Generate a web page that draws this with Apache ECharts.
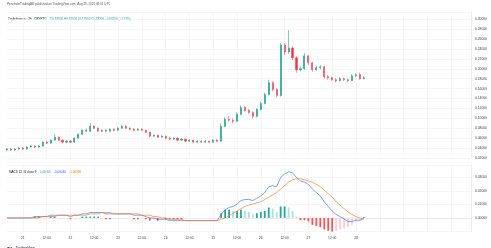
<!DOCTYPE html>
<html><head><meta charset="utf-8">
<script src="https://cdn.jsdelivr.net/npm/echarts@6/dist/echarts.min.js"></script>
<style>html,body{margin:0;padding:0;background:#fff}#c{width:491px;height:248px}</style>
</head><body><div id="c"></div><script>
// ---- data (2h candles) ----
const openP=[0.036,0.038,0.036,0.038,0.040,0.038,0.042,0.044,0.042,0.044,
0.052,0.050,0.056,0.062,0.056,0.052,0.054,0.052,0.060,0.068,
0.076,0.074,0.084,0.080,0.074,0.076,0.074,0.078,0.076,0.080,
0.084,0.080,0.078,0.076,0.078,0.076,0.072,0.064,0.066,0.062,
0.064,0.060,0.058,0.060,0.056,0.058,0.054,0.056,0.052,0.054,
0.052,0.054,0.052,0.056,0.054,0.084,0.098,0.096,0.094,0.108,
0.122,0.116,0.112,0.104,0.118,0.130,0.148,0.172,0.158,0.146,
0.248,0.234,0.242,0.222,0.198,0.200,0.226,0.212,0.198,0.202,
0.204,0.184,0.182,0.178,0.176,0.180,0.178,0.176,0.186,0.188,
0.180];
const closeP=[0.038,0.036,0.038,0.040,0.038,0.042,0.044,0.042,0.044,0.052,
0.050,0.056,0.062,0.056,0.052,0.054,0.052,0.060,0.068,0.076,
0.074,0.084,0.080,0.074,0.076,0.074,0.078,0.076,0.080,0.084,
0.080,0.078,0.076,0.078,0.076,0.072,0.064,0.066,0.062,0.064,
0.060,0.058,0.060,0.056,0.058,0.054,0.056,0.052,0.054,0.052,
0.054,0.052,0.056,0.054,0.084,0.098,0.096,0.094,0.108,0.122,
0.116,0.112,0.104,0.118,0.130,0.148,0.172,0.158,0.146,0.248,
0.234,0.242,0.222,0.198,0.200,0.226,0.212,0.198,0.202,0.204,
0.184,0.182,0.178,0.176,0.180,0.178,0.176,0.186,0.188,0.180,
0.182];
const highP=[0.040,0.040,0.040,0.042,0.042,0.044,0.046,0.046,0.046,0.054,
0.055,0.058,0.068,0.064,0.058,0.056,0.056,0.062,0.070,0.078,
0.079,0.090,0.086,0.082,0.078,0.078,0.080,0.080,0.082,0.087,
0.086,0.082,0.080,0.080,0.080,0.077,0.073,0.068,0.067,0.066,
0.065,0.062,0.062,0.061,0.060,0.059,0.058,0.057,0.056,0.055,
0.056,0.055,0.058,0.058,0.090,0.102,0.104,0.100,0.112,0.126,
0.125,0.119,0.114,0.121,0.134,0.152,0.178,0.175,0.161,0.252,
0.252,0.278,0.246,0.225,0.205,0.232,0.228,0.214,0.206,0.208,
0.206,0.187,0.184,0.181,0.183,0.182,0.180,0.189,0.191,0.192,
0.185];
const lowP=[0.034,0.034,0.035,0.037,0.036,0.037,0.041,0.040,0.041,0.043,
0.048,0.049,0.055,0.054,0.050,0.050,0.050,0.051,0.059,0.067,
0.072,0.073,0.078,0.072,0.072,0.072,0.073,0.074,0.075,0.079,
0.078,0.076,0.074,0.075,0.074,0.070,0.062,0.063,0.060,0.061,
0.058,0.056,0.057,0.054,0.055,0.052,0.053,0.050,0.051,0.050,
0.051,0.050,0.051,0.052,0.053,0.082,0.092,0.090,0.093,0.106,
0.113,0.109,0.100,0.102,0.116,0.128,0.146,0.154,0.142,0.144,
0.228,0.230,0.218,0.192,0.195,0.198,0.208,0.194,0.196,0.199,
0.180,0.178,0.175,0.172,0.174,0.175,0.173,0.175,0.184,0.178,
0.179];
const macdLine=[0.000,0.000,0.000,0.000,0.000,0.000,0.000,0.001,0.001,0.001,
0.001,0.002,0.002,0.002,0.002,0.002,0.001,0.002,0.002,0.003,
0.003,0.004,0.004,0.004,0.004,0.003,0.003,0.003,0.003,0.003,
0.003,0.003,0.002,0.002,0.002,0.001,0.000,0.000,-0.001,-0.001,
-0.001,-0.002,-0.002,-0.002,-0.002,-0.002,-0.002,-0.002,-0.002,-0.002,
-0.002,-0.002,-0.002,-0.002,0.0026,0.0060,0.0077,0.0085,0.0102,0.0128,
0.0136,0.0136,0.0128,0.0145,0.0162,0.0187,0.0230,0.0238,0.0230,0.0298,
0.0323,0.0340,0.0332,0.0298,0.0272,0.0264,0.0247,0.0213,0.0187,0.0162,
0.0119,0.0085,0.0051,0.0026,0.0009,-0.0009,-0.0026,-0.0026,-0.0017,-0.0017,
-0.0004];
const signalLine=[0.000,0.000,0.000,0.000,0.000,0.000,0.000,0.000,0.000,0.001,
0.001,0.001,0.001,0.002,0.002,0.002,0.002,0.002,0.002,0.002,
0.002,0.003,0.003,0.003,0.004,0.004,0.004,0.003,0.003,0.003,
0.003,0.003,0.003,0.003,0.002,0.002,0.002,0.001,0.001,0.000,
0.000,-0.001,-0.001,-0.001,-0.001,-0.002,-0.002,-0.002,-0.002,-0.002,
-0.002,-0.002,-0.002,-0.002,-0.0009,0.0000,0.0017,0.0034,0.0051,0.0068,
0.0085,0.0094,0.0102,0.0111,0.0119,0.0136,0.0153,0.0170,0.0187,0.0213,
0.0238,0.0264,0.0281,0.0289,0.0289,0.0281,0.0272,0.0264,0.0247,0.0230,
0.0204,0.0179,0.0153,0.0119,0.0094,0.0068,0.0043,0.0026,0.0009,0.0000,
-0.0009];
const histBars=[0.000,0.000,0.000,0.000,0.000,0.000,0.000,0.001,0.001,0.000,
0.000,0.001,0.001,0.000,0.000,0.000,-0.001,0.000,0.000,0.001,
0.001,0.001,0.001,0.001,0.000,-0.001,-0.001,0.000,0.000,0.000,
0.000,0.000,-0.001,-0.001,0.000,-0.001,-0.002,-0.001,-0.002,-0.001,
-0.001,-0.001,-0.001,-0.001,-0.001,0.000,0.000,0.000,0.000,0.000,
0.000,0.000,0.000,0.000,0.0034,0.0060,0.0060,0.0051,0.0051,0.0060,
0.0051,0.0043,0.0026,0.0034,0.0043,0.0051,0.0077,0.0068,0.0043,0.0085,
0.0085,0.0077,0.0051,0.0009,-0.0017,-0.0017,-0.0026,-0.0051,-0.0060,-0.0068,
-0.0085,-0.0094,-0.0102,-0.0094,-0.0085,-0.0077,-0.0068,-0.0051,-0.0026,-0.0017,
0.0005];
const startUTC=Date.UTC(2025,7,20,16,0); // first 2h candle
const slotCount=118;                      // candles + empty future space
const symbolText='TradeInversa · 2h · CRYPTO';
const publishText='PenetrateTradingAB published on TradingView.com, Aug 28, 2025 08:01 UTC';

// ---- build ----
const cats=[];
for(let k=0;k<slotCount;k++){const d=new Date(startUTC+k*7200000);cats.push(d.toISOString().slice(0,16).replace('T',' '));}
const candles=openP.map((o,i)=>[o,closeP[i],lowP[i],highP[i]]);
const n=closeP.length;
const up='#089981',down='#F23645';
const histData=histBars.map((v,i)=>{
  const prev=i>0?histBars[i-1]:0;
  let c;
  if(v>=0) c = v>=prev?'#26A69A':'#B2DFDB'; else c = v<=prev?'#FF5252':'#FFCDD2';
  return {value:v,itemStyle:{color:c}};
});
const lo=openP[n-1],lc=closeP[n-1];
const chg=lc-closeP[n-2];
const fmt=v=>v.toFixed(5);
const valColor= lc>=lo?up:down;
const isMark=(idx,val)=>{const t=val.slice(11);return t==='00:00'||t==='12:00';};
const gridColor='#eef0f4';
const FONT='Liberation Sans';
const F=s=>s+'px "'+FONT+'"';
const chart=echarts.init(document.getElementById('c'),null,{renderer:'canvas'});
chart.setOption({
  animation:false,
  textStyle:{fontFamily:FONT},
  graphic:[
    {type:'text',left:7,top:2.5,style:{text:publishText,font:F(3),fill:'#555'}},
    {type:'text',left:8,top:13.5,style:{
      text:'{s|'+symbolText+'} {v|O'+fmt(lo)+' H'+fmt(highP[n-1])+' L'+fmt(lowP[n-1])+' C'+fmt(lc)+' '+(chg>=0?'+':'')+fmt(chg)+' ('+(chg>=0?'+':'')+(chg/closeP[n-2]*100).toFixed(2)+'%)}',
      rich:{s:{fontSize:3,fontFamily:FONT,fill:'#131722'},v:{fontSize:3,fontFamily:FONT,fill:valColor}}}},
    {type:'text',left:9,top:166,style:{
      text:'{s|MACD 12 26 close 9} {h|'+fmt(histBars[n-1])+'} {m|'+fmt(macdLine[n-1])+'} {g|'+fmt(signalLine[n-1])+'}',
      rich:{s:{fontSize:3,fontFamily:FONT,fill:'#131722'},h:{fontSize:3,fontFamily:FONT,fill:'#26A69A'},m:{fontSize:3,fontFamily:FONT,fill:'#2962FF'},g:{fontSize:3,fontFamily:FONT,fill:'#FF6D00'}}}},
    {type:'text',left:7,top:242.5,style:{
      text:'{b|TV} {t|TradingView}',
      rich:{b:{fontSize:4,fontWeight:'bold',fontFamily:FONT,fill:'#131722'},t:{fontSize:3.5,fontFamily:FONT,fill:'#131722'}}}}
  ],
  grid:[
    {left:7,right:20,top:12,height:146},
    {left:7,right:20,top:165,height:66.5}
  ],
  xAxis:[
    {type:'category',gridIndex:0,data:cats,boundaryGap:false,axisLine:{show:false},axisTick:{show:false},axisLabel:{show:false},
     splitLine:{show:true,interval:isMark,lineStyle:{color:gridColor,width:0.6}}},
    {type:'category',gridIndex:1,data:cats,boundaryGap:false,axisLine:{show:true,lineStyle:{color:'#e0e3eb',width:0.6}},axisTick:{show:false},
     axisLabel:{interval:(idx,val)=>isMark(idx,val)&&idx<n,fontSize:3.3,color:'#444',margin:5,
       formatter:v=>v.slice(11)==='00:00'?String(+v.slice(8,10)):'12:00'},
     splitLine:{show:true,interval:isMark,lineStyle:{color:gridColor,width:0.6}}}
  ],
  yAxis:[
    {type:'value',gridIndex:0,position:'right',min:0.02,max:0.3145,interval:0.02,
     axisLine:{show:true,lineStyle:{color:'#e0e3eb',width:0.6}},axisTick:{show:false},
     axisLabel:{fontSize:3.3,color:'#444',margin:4,formatter:fmt,showMaxLabel:false},
     splitLine:{lineStyle:{color:gridColor,width:0.6}}},
    {type:'value',gridIndex:1,position:'right',min:-0.01,max:0.039,interval:0.01,
     axisLine:{show:true,lineStyle:{color:'#e0e3eb',width:0.6}},axisTick:{show:false},
     axisLabel:{fontSize:3.3,color:'#444',margin:4,formatter:fmt,showMaxLabel:false,showMinLabel:false},
     splitLine:{lineStyle:{color:gridColor,width:0.6}}}
  ],
  series:[
    {type:'candlestick',xAxisIndex:0,yAxisIndex:0,data:candles,barWidth:1.6,
     itemStyle:{color:up,color0:down,borderColor:up,borderColor0:down,borderWidth:0.5},
     markLine:{silent:true,symbol:'none',data:[{yAxis:lc}],
       lineStyle:{opacity:0},
       label:{position:'end',distance:3,formatter:p=>fmt(p.value),color:'#fff',backgroundColor:valColor,fontSize:3.3,padding:[1,1.5],borderRadius:0.5}}},
    {type:'bar',xAxisIndex:1,yAxisIndex:1,data:histData,barWidth:1.8},
    {type:'line',xAxisIndex:1,yAxisIndex:1,data:macdLine,symbol:'none',lineStyle:{color:'#2962FF',width:0.6},
     markLine:{silent:true,symbol:'none',data:[{yAxis:macdLine[n-1]}],lineStyle:{opacity:0},
       label:{position:'end',distance:3,formatter:p=>fmt(p.value),color:'#fff',backgroundColor:'#2962FF',fontSize:3.3,padding:[1,1.5],borderRadius:0.5}}},
    {type:'line',xAxisIndex:1,yAxisIndex:1,data:signalLine,symbol:'none',lineStyle:{color:'#FF6D00',width:0.6}}
  ]
});
</script></body></html>
